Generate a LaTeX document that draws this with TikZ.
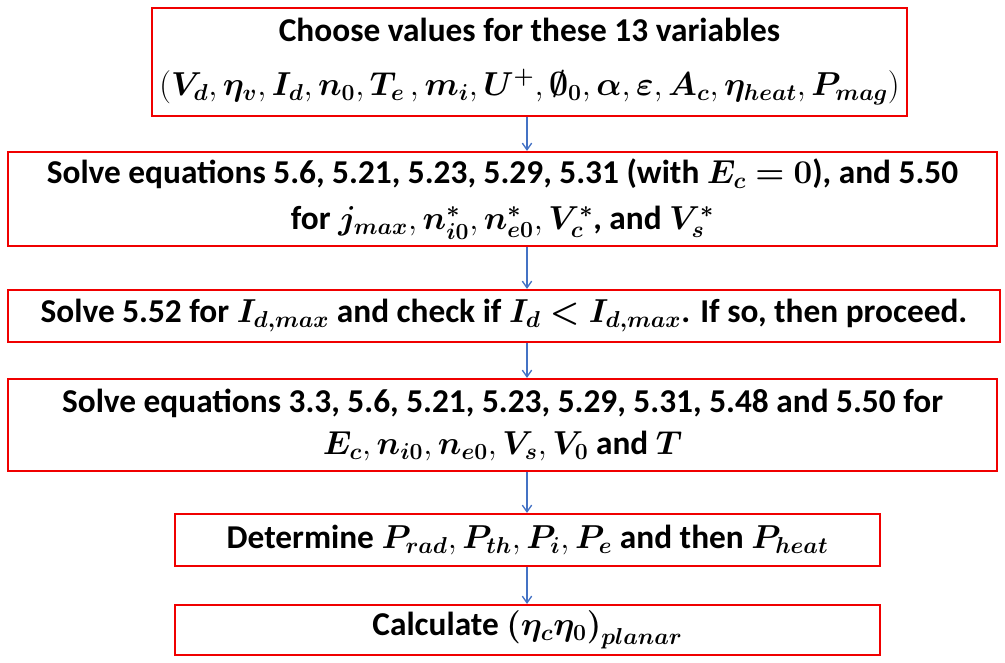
\documentclass[tikz,border=0pt]{standalone}
\usepackage{fontspec}
\setmainfont{Carlito}
\usepackage{amsmath,amssymb,bm}
\usetikzlibrary{arrows.meta,positioning,calc}
\definecolor{boxred}{RGB}{240,0,0}
\definecolor{flowblue}{RGB}{68,114,196}

\begin{document}
\begin{tikzpicture}[x=0.75pt,y=-0.75pt,
  stepbox/.style={draw=boxred,line width=1.6pt,inner sep=0pt,align=center,
    font=\fontsize{25}{29.5}\selectfont\bfseries},
  flow/.style={draw=flowblue,line width=1pt,-{Straight Barb[length=5pt,width=7pt]}}]
\useasboundingbox (0,0) rectangle (1005,662);
% the six steps, top to bottom (sizes in pt: 0.75pt per pixel)
\node[stepbox,minimum width=566.25pt,minimum height=81pt] (choose) at (529.5,62)
  {Choose values for these 13 variables\\[11pt]
   $(\bm{V_d}, \bm{\eta_v}, \bm{I_d}, \bm{n_0}, \bm{T_e}\,, \bm{m_i}, \bm{U}^{\bm{+}}, \bm{\emptyset_0}, \bm{\alpha}, \bm{\varepsilon}, \bm{A_c}, \bm{\eta_{heat}}, \bm{P_{mag}})$};
\node[stepbox,minimum width=741.75pt,minimum height=70.5pt] (solveA) at (502.5,199)
  {Solve equations 5.6, 5.21, 5.23, 5.29, 5.31 (with $\bm{E_c} \bm{=} \bm{0}$), and 5.50\\[5pt]
   for $\bm{j_{max}}, \bm{n^{*}_{i0}}, \bm{n^{*}_{e0}}, \bm{V^{*}_c}$, and $\bm{V^{*}_s}$};
\node[stepbox,minimum width=744pt,minimum height=39pt] (check) at (504,316)
  {Solve 5.52 for $\bm{I_{d,max}}$ and check if $\bm{I_d} \bm{<} \bm{I_{d,max}}$. If so, then proceed.};
\node[stepbox,minimum width=741.75pt,minimum height=69pt] (solveB) at (502.5,425)
  {Solve equations 3.3, 5.6, 5.21, 5.23, 5.29, 5.31, 5.48 and 5.50 for\\[2pt]
   $\bm{E_c}, \bm{n_{i0}}, \bm{n_{e0}}, \bm{V_s}, \bm{V_0}$ and $\bm{T}$};
\node[stepbox,minimum width=528.75pt,minimum height=39pt] (power) at (527.5,540)
  {Determine $\bm{P_{rad}}, \bm{P_{th}}, \bm{P_i}, \bm{P_e}$ and then $\bm{P_{heat}}$};
\node[stepbox,minimum width=528.75pt,minimum height=37.5pt] (calc) at (527.5,630)
  {Calculate $\bm{(}\bm{\eta_c}\bm{\eta_0}\bm{)}_{\bm{planar}}$};
% arrows all run down one vertical line
\coordinate (spine) at (527,0);
\draw[flow] (choose.south -| spine) -- (solveA.north -| spine);
\draw[flow] (solveA.south -| spine) -- (check.north -| spine);
\draw[flow] (check.south -| spine) -- (solveB.north -| spine);
\draw[flow] (solveB.south -| spine) -- (power.north -| spine);
\draw[flow] (power.south -| spine) -- (calc.north -| spine);
\end{tikzpicture}
\end{document}
